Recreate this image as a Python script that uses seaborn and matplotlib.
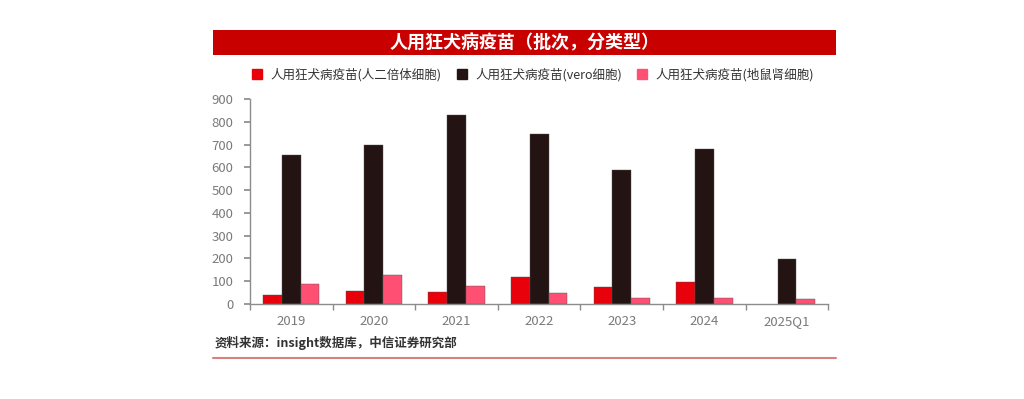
import matplotlib
matplotlib.use("Agg")
import matplotlib.pyplot as plt
import seaborn as sns
import numpy as np
import pandas as pd
from matplotlib.patches import Rectangle
from matplotlib.lines import Line2D

categories = ["2019", "2020", "2021", "2022", "2023", "2024", "2025Q1"]
series_names = ["人用狂犬病疫苗(人二倍体细胞)", "人用狂犬病疫苗(vero细胞)", "人用狂犬病疫苗(地鼠肾细胞)"]
human_diploid = [38, 56, 51, 117, 73, 98, np.nan]
vero = [653, 697, 831, 745, 588, 680, 199]
hamster_kidney = [88, 126, 78, 47, 26, 26, 23]
colors = ["#E8000B", "#231312", "#FF4F73"]
yticks = [0, 100, 200, 300, 400, 500, 600, 700, 800, 900]

sns.set_theme(style="white")
plt.rcParams['font.family'] = ['Noto Sans CJK SC', 'DejaVu Sans']

rows = []
for name, vals in zip(series_names, [human_diploid, vero, hamster_kidney]):
    for c, v in zip(categories, vals):
        rows.append({"year": c, "value": v, "series": name})
df = pd.DataFrame(rows)

fig = plt.figure(figsize=(10.24, 3.99), dpi=100)
ax = fig.add_axes([0.244, 0.238, 0.565, 0.514])
sns.barplot(data=df, x="year", y="value", hue="series", hue_order=series_names,
            order=categories, palette=colors, saturation=1, width=0.68, ax=ax, legend=False,
            edgecolor="#555555", linewidth=0.3)

ax.set_ylim(0, 900)
ax.set_xlim(-0.5, len(categories) - 0.5)
ax.set_yticks(yticks)
ax.set_xlabel("")
ax.set_ylabel("")
for s in ["top", "right"]:
    ax.spines[s].set_visible(False)
for s in ["left", "bottom"]:
    ax.spines[s].set_color("#8C8C8C")
    ax.spines[s].set_linewidth(1.0)
ax.tick_params(axis="y", labelsize=9.5, labelcolor="#7A7A7A", length=4, color="#8C8C8C", left=True, pad=8)
ax.tick_params(axis="x", which="major", labelsize=9.5, labelcolor="#7A7A7A", length=0, pad=8)
ax.set_xticks(np.arange(-0.5, len(categories)), minor=True)
ax.tick_params(axis="x", which="minor", length=4, color="#8C8C8C", bottom=True)

# legend
handles = [Line2D([0], [0], marker="s", linestyle="", markersize=7, markerfacecolor=c, markeredgecolor=c) for c in colors]
fig.legend(handles, series_names, loc="center", bbox_to_anchor=(0.517, 0.812), ncol=3,
           frameon=False, fontsize=9, handletextpad=0.1, columnspacing=0.6, labelcolor="#333333")

# title banner
fig.patches.append(Rectangle((0.208, 0.862), 0.608, 0.063, transform=fig.transFigure,
                             facecolor="#C80000", edgecolor="none"))
fig.text(0.512, 0.893, "人用狂犬病疫苗（批次，分类型）", ha="center", va="center",
         color="white", fontsize=13, fontweight="bold")

# source and footer line
fig.text(0.21, 0.14, "资料来源：insight数据库，中信证券研究部", ha="left", va="center",
         color="#333333", fontsize=9, fontweight="bold")
fig.lines.append(Line2D([0.208, 0.816], [0.103, 0.103], transform=fig.transFigure,
                        color="#D98080", linewidth=1.5))

fig.savefig("out.png", dpi=100)
